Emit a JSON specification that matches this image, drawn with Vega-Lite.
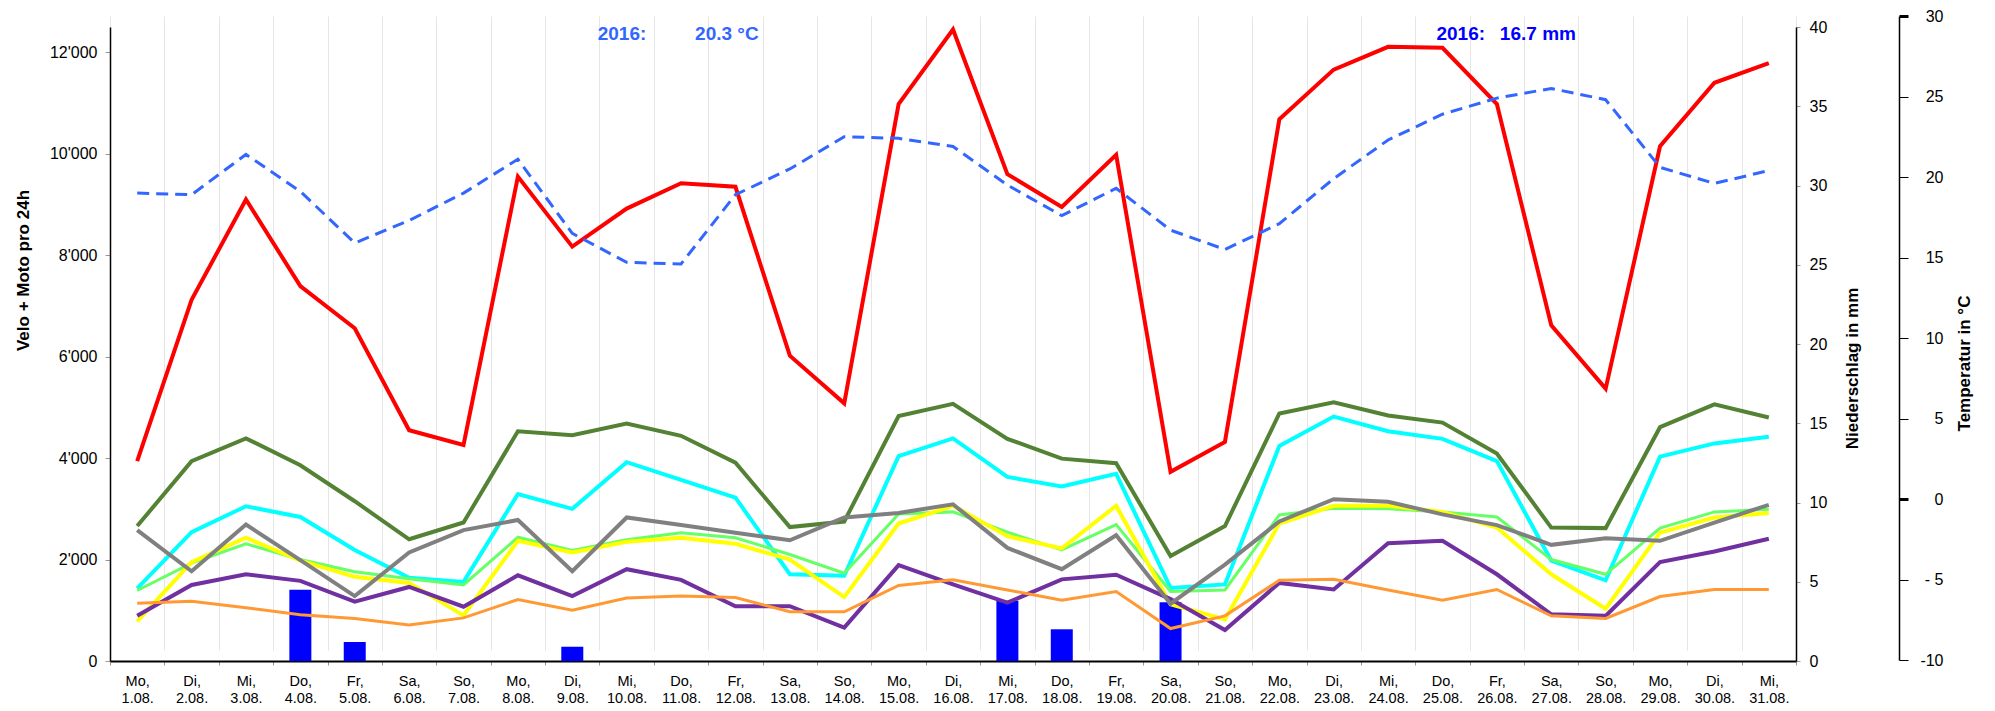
{
  "$schema": "https://vega.github.io/schema/vega-lite/v6.json",
  "width": 1686,
  "height": 645,
  "autosize": {"type": "none"},
  "padding": {"left": 110, "top": 16, "right": 199, "bottom": 50},
  "background": "white",
  "config": {"view": {"stroke": null}, "font": "Liberation Sans"},
  "datasets": {
    "rot": [
      {"d":"Mo, 1.08.","v":3940},{"d":"Di, 2.08.","v":7120},{"d":"Mi, 3.08.","v":9100},{"d":"Do, 4.08.","v":7390},{"d":"Fr, 5.08.","v":6560},{"d":"Sa, 6.08.","v":4550},{"d":"So, 7.08.","v":4260},{"d":"Mo, 8.08.","v":9550},{"d":"Di, 9.08.","v":8170},{"d":"Mi, 10.08.","v":8920},{"d":"Do, 11.08.","v":9420},{"d":"Fr, 12.08.","v":9350},{"d":"Sa, 13.08.","v":6020},{"d":"So, 14.08.","v":5080},{"d":"Mo, 15.08.","v":10980},{"d":"Di, 16.08.","v":12450},{"d":"Mi, 17.08.","v":9600},{"d":"Do, 18.08.","v":8950},{"d":"Fr, 19.08.","v":9980},{"d":"Sa, 20.08.","v":3730},{"d":"So, 21.08.","v":4320},{"d":"Mo, 22.08.","v":10680},{"d":"Di, 23.08.","v":11660},{"d":"Mi, 24.08.","v":12110},{"d":"Do, 25.08.","v":12090},{"d":"Fr, 26.08.","v":10980},{"d":"Sa, 27.08.","v":6620},{"d":"So, 28.08.","v":5370},{"d":"Mo, 29.08.","v":10150},{"d":"Di, 30.08.","v":11400},{"d":"Mi, 31.08.","v":11790}
    ],
    "dgruen": [
      {"d":"Mo, 1.08.","v":2660},{"d":"Di, 2.08.","v":3940},{"d":"Mi, 3.08.","v":4390},{"d":"Do, 4.08.","v":3860},{"d":"Fr, 5.08.","v":3150},{"d":"Sa, 6.08.","v":2400},{"d":"So, 7.08.","v":2730},{"d":"Mo, 8.08.","v":4530},{"d":"Di, 9.08.","v":4450},{"d":"Mi, 10.08.","v":4680},{"d":"Do, 11.08.","v":4440},{"d":"Fr, 12.08.","v":3910},{"d":"Sa, 13.08.","v":2640},{"d":"So, 14.08.","v":2750},{"d":"Mo, 15.08.","v":4830},{"d":"Di, 16.08.","v":5070},{"d":"Mi, 17.08.","v":4380},{"d":"Do, 18.08.","v":3990},{"d":"Fr, 19.08.","v":3900},{"d":"Sa, 20.08.","v":2070},{"d":"So, 21.08.","v":2660},{"d":"Mo, 22.08.","v":4880},{"d":"Di, 23.08.","v":5100},{"d":"Mi, 24.08.","v":4840},{"d":"Do, 25.08.","v":4700},{"d":"Fr, 26.08.","v":4090},{"d":"Sa, 27.08.","v":2630},{"d":"So, 28.08.","v":2620},{"d":"Mo, 29.08.","v":4610},{"d":"Di, 30.08.","v":5060},{"d":"Mi, 31.08.","v":4800}
    ],
    "cyan": [
      {"d":"Mo, 1.08.","v":1430},{"d":"Di, 2.08.","v":2540},{"d":"Mi, 3.08.","v":3050},{"d":"Do, 4.08.","v":2840},{"d":"Fr, 5.08.","v":2190},{"d":"Sa, 6.08.","v":1640},{"d":"So, 7.08.","v":1560},{"d":"Mo, 8.08.","v":3290},{"d":"Di, 9.08.","v":3000},{"d":"Mi, 10.08.","v":3920},{"d":"Do, 11.08.","v":3570},{"d":"Fr, 12.08.","v":3220},{"d":"Sa, 13.08.","v":1710},{"d":"So, 14.08.","v":1680},{"d":"Mo, 15.08.","v":4040},{"d":"Di, 16.08.","v":4390},{"d":"Mi, 17.08.","v":3630},{"d":"Do, 18.08.","v":3440},{"d":"Fr, 19.08.","v":3690},{"d":"Sa, 20.08.","v":1440},{"d":"So, 21.08.","v":1510},{"d":"Mo, 22.08.","v":4240},{"d":"Di, 23.08.","v":4820},{"d":"Mi, 24.08.","v":4530},{"d":"Do, 25.08.","v":4380},{"d":"Fr, 26.08.","v":3940},{"d":"Sa, 27.08.","v":1980},{"d":"So, 28.08.","v":1590},{"d":"Mo, 29.08.","v":4030},{"d":"Di, 30.08.","v":4290},{"d":"Mi, 31.08.","v":4420}
    ],
    "hgruen": [
      {"d":"Mo, 1.08.","v":1390},{"d":"Di, 2.08.","v":1930},{"d":"Mi, 3.08.","v":2310},{"d":"Do, 4.08.","v":2000},{"d":"Fr, 5.08.","v":1760},{"d":"Sa, 6.08.","v":1620},{"d":"So, 7.08.","v":1500},{"d":"Mo, 8.08.","v":2440},{"d":"Di, 9.08.","v":2180},{"d":"Mi, 10.08.","v":2390},{"d":"Do, 11.08.","v":2530},{"d":"Fr, 12.08.","v":2430},{"d":"Sa, 13.08.","v":2100},{"d":"So, 14.08.","v":1730},{"d":"Mo, 15.08.","v":2900},{"d":"Di, 16.08.","v":2940},{"d":"Mi, 17.08.","v":2540},{"d":"Do, 18.08.","v":2190},{"d":"Fr, 19.08.","v":2690},{"d":"Sa, 20.08.","v":1370},{"d":"So, 21.08.","v":1400},{"d":"Mo, 22.08.","v":2880},{"d":"Di, 23.08.","v":3010},{"d":"Mi, 24.08.","v":3000},{"d":"Do, 25.08.","v":2940},{"d":"Fr, 26.08.","v":2840},{"d":"Sa, 27.08.","v":2000},{"d":"So, 28.08.","v":1710},{"d":"Mo, 29.08.","v":2620},{"d":"Di, 30.08.","v":2940},{"d":"Mi, 31.08.","v":2990}
    ],
    "gelb": [
      {"d":"Mo, 1.08.","v":780},{"d":"Di, 2.08.","v":1950},{"d":"Mi, 3.08.","v":2430},{"d":"Do, 4.08.","v":1980},{"d":"Fr, 5.08.","v":1660},{"d":"Sa, 6.08.","v":1540},{"d":"So, 7.08.","v":900},{"d":"Mo, 8.08.","v":2370},{"d":"Di, 9.08.","v":2140},{"d":"Mi, 10.08.","v":2350},{"d":"Do, 11.08.","v":2430},{"d":"Fr, 12.08.","v":2310},{"d":"Sa, 13.08.","v":2000},{"d":"So, 14.08.","v":1260},{"d":"Mo, 15.08.","v":2710},{"d":"Di, 16.08.","v":3060},{"d":"Mi, 17.08.","v":2460},{"d":"Do, 18.08.","v":2220},{"d":"Fr, 19.08.","v":3060},{"d":"Sa, 20.08.","v":1120},{"d":"So, 21.08.","v":820},{"d":"Mo, 22.08.","v":2710},{"d":"Di, 23.08.","v":3060},{"d":"Mi, 24.08.","v":3060},{"d":"Do, 25.08.","v":2940},{"d":"Fr, 26.08.","v":2630},{"d":"Sa, 27.08.","v":1710},{"d":"So, 28.08.","v":1030},{"d":"Mo, 29.08.","v":2530},{"d":"Di, 30.08.","v":2830},{"d":"Mi, 31.08.","v":2920}
    ],
    "violett": [
      {"d":"Mo, 1.08.","v":890},{"d":"Di, 2.08.","v":1500},{"d":"Mi, 3.08.","v":1710},{"d":"Do, 4.08.","v":1580},{"d":"Fr, 5.08.","v":1170},{"d":"Sa, 6.08.","v":1460},{"d":"So, 7.08.","v":1070},{"d":"Mo, 8.08.","v":1690},{"d":"Di, 9.08.","v":1280},{"d":"Mi, 10.08.","v":1810},{"d":"Do, 11.08.","v":1600},{"d":"Fr, 12.08.","v":1080},{"d":"Sa, 13.08.","v":1080},{"d":"So, 14.08.","v":660},{"d":"Mo, 15.08.","v":1890},{"d":"Di, 16.08.","v":1510},{"d":"Mi, 17.08.","v":1150},{"d":"Do, 18.08.","v":1610},{"d":"Fr, 19.08.","v":1700},{"d":"Sa, 20.08.","v":1220},{"d":"So, 21.08.","v":610},{"d":"Mo, 22.08.","v":1540},{"d":"Di, 23.08.","v":1410},{"d":"Mi, 24.08.","v":2320},{"d":"Do, 25.08.","v":2370},{"d":"Fr, 26.08.","v":1710},{"d":"Sa, 27.08.","v":920},{"d":"So, 28.08.","v":890},{"d":"Mo, 29.08.","v":1950},{"d":"Di, 30.08.","v":2160},{"d":"Mi, 31.08.","v":2410}
    ],
    "orange": [
      {"d":"Mo, 1.08.","v":1140},{"d":"Di, 2.08.","v":1180},{"d":"Mi, 3.08.","v":1050},{"d":"Do, 4.08.","v":910},{"d":"Fr, 5.08.","v":840},{"d":"Sa, 6.08.","v":710},{"d":"So, 7.08.","v":850},{"d":"Mo, 8.08.","v":1210},{"d":"Di, 9.08.","v":1000},{"d":"Mi, 10.08.","v":1240},{"d":"Do, 11.08.","v":1280},{"d":"Fr, 12.08.","v":1250},{"d":"Sa, 13.08.","v":970},{"d":"So, 14.08.","v":970},{"d":"Mo, 15.08.","v":1490},{"d":"Di, 16.08.","v":1600},{"d":"Mi, 17.08.","v":1400},{"d":"Do, 18.08.","v":1200},{"d":"Fr, 19.08.","v":1370},{"d":"Sa, 20.08.","v":640},{"d":"So, 21.08.","v":890},{"d":"Mo, 22.08.","v":1590},{"d":"Di, 23.08.","v":1610},{"d":"Mi, 24.08.","v":1400},{"d":"Do, 25.08.","v":1200},{"d":"Fr, 26.08.","v":1410},{"d":"Sa, 27.08.","v":890},{"d":"So, 28.08.","v":840},{"d":"Mo, 29.08.","v":1270},{"d":"Di, 30.08.","v":1410},{"d":"Mi, 31.08.","v":1410}
    ],
    "grau": [
      {"d":"Mo, 1.08.","v":2580},{"d":"Di, 2.08.","v":1770},{"d":"Mi, 3.08.","v":2690},{"d":"Do, 4.08.","v":1990},{"d":"Fr, 5.08.","v":1280},{"d":"Sa, 6.08.","v":2140},{"d":"So, 7.08.","v":2580},{"d":"Mo, 8.08.","v":2780},{"d":"Di, 9.08.","v":1770},{"d":"Mi, 10.08.","v":2830},{"d":"Do, 11.08.","v":2680},{"d":"Fr, 12.08.","v":2530},{"d":"Sa, 13.08.","v":2380},{"d":"So, 14.08.","v":2830},{"d":"Mo, 15.08.","v":2920},{"d":"Di, 16.08.","v":3090},{"d":"Mi, 17.08.","v":2230},{"d":"Do, 18.08.","v":1810},{"d":"Fr, 19.08.","v":2480},{"d":"Sa, 20.08.","v":1130},{"d":"So, 21.08.","v":1900},{"d":"Mo, 22.08.","v":2750},{"d":"Di, 23.08.","v":3190},{"d":"Mi, 24.08.","v":3140},{"d":"Do, 25.08.","v":2890},{"d":"Fr, 26.08.","v":2680},{"d":"Sa, 27.08.","v":2290},{"d":"So, 28.08.","v":2420},{"d":"Mo, 29.08.","v":2370},{"d":"Di, 30.08.","v":2730},{"d":"Mi, 31.08.","v":3080}
    ],
    "temp": [
      {"d":"Mo, 1.08.","t":19.0},{"d":"Di, 2.08.","t":18.9},{"d":"Mi, 3.08.","t":21.4},{"d":"Do, 4.08.","t":19.1},{"d":"Fr, 5.08.","t":15.9},{"d":"Sa, 6.08.","t":17.3},{"d":"So, 7.08.","t":19.0},{"d":"Mo, 8.08.","t":21.1},{"d":"Di, 9.08.","t":16.5},{"d":"Mi, 10.08.","t":14.7},{"d":"Do, 11.08.","t":14.6},{"d":"Fr, 12.08.","t":18.9},{"d":"Sa, 13.08.","t":20.5},{"d":"So, 14.08.","t":22.5},{"d":"Mo, 15.08.","t":22.4},{"d":"Di, 16.08.","t":21.9},{"d":"Mi, 17.08.","t":19.5},{"d":"Do, 18.08.","t":17.6},{"d":"Fr, 19.08.","t":19.3},{"d":"Sa, 20.08.","t":16.7},{"d":"So, 21.08.","t":15.5},{"d":"Mo, 22.08.","t":17.1},{"d":"Di, 23.08.","t":19.9},{"d":"Mi, 24.08.","t":22.3},{"d":"Do, 25.08.","t":23.9},{"d":"Fr, 26.08.","t":24.9},{"d":"Sa, 27.08.","t":25.5},{"d":"So, 28.08.","t":24.8},{"d":"Mo, 29.08.","t":20.6},{"d":"Di, 30.08.","t":19.6},{"d":"Mi, 31.08.","t":20.4}
    ],
    "rain": [
      {"d":"Do, 4.08.","mm":4.5},{"d":"Fr, 5.08.","mm":1.2},{"d":"Di, 9.08.","mm":0.9},{"d":"Mi, 17.08.","mm":3.8},{"d":"Do, 18.08.","mm":2.0},{"d":"Sa, 20.08.","mm":3.7}
    ],
    "notes": [
      {"d":"Mi, 10.08.","v":12370,"label":"2016:"},
      {"d":"Do, 11.08.","v":12370,"label":"20.3  °C"},
      {"d":"Do, 25.08.","v":12370,"label":"2016:"},
      {"d":"Fr, 26.08.","v":12370,"label":"16.7 mm"}
    ]
  },
  "encoding": {
    "x": {
      "field": "d",
      "type": "nominal",
      "sort": null,
      "scale": {
        "domain": ["Mo, 1.08.","Di, 2.08.","Mi, 3.08.","Do, 4.08.","Fr, 5.08.","Sa, 6.08.","So, 7.08.","Mo, 8.08.","Di, 9.08.","Mi, 10.08.","Do, 11.08.","Fr, 12.08.","Sa, 13.08.","So, 14.08.","Mo, 15.08.","Di, 16.08.","Mi, 17.08.","Do, 18.08.","Fr, 19.08.","Sa, 20.08.","So, 21.08.","Mo, 22.08.","Di, 23.08.","Mi, 24.08.","Do, 25.08.","Fr, 26.08.","Sa, 27.08.","So, 28.08.","Mo, 29.08.","Di, 30.08.","Mi, 31.08."],
        "paddingInner": 0,
        "paddingOuter": 0
      },
      "axis": {
        "title": null,
        "labelExpr": "split(datum.label, ' ')",
        "labelAngle": 0,
        "labelFontSize": 14.5,
        "labelColor": "#000000",
        "labelPadding": 9,
        "labelBaseline": "top",
        "labelLineHeight": 17.5,
        "labelOverlap": false,
        "tickBand": "extent",
        "tickSize": 4,
        "tickColor": "#999999",
        "domainColor": "#000000",
        "domainWidth": 2,
        "grid": true,
        "gridColor": "#e6e6e6",
        "gridWidth": 1
      }
    }
  },
  "layer": [
    {
      "data": {"name": "rain"},
      "mark": {"type": "bar", "color": "#0000FF", "width": 22},
      "encoding": {
        "y": {
          "field": "mm",
          "type": "quantitative",
          "scale": {"domain": [0, 40], "range": [645, 11], "nice": false, "zero": true},
          "axis": {
            "orient": "right",
            "values": [0, 5, 10, 15, 20, 25, 30, 35, 40],
            "labelFontSize": 16,
            "labelColor": "#000000",
            "labelPadding": 9,
            "tickSize": 4,
            "tickColor": "#999999",
            "domainColor": "#000000",
            "domainWidth": 1.5,
            "grid": false,
            "title": "Niederschlag in mm",
            "titleFontSize": 17,
            "titleFontWeight": "bold",
            "titleColor": "#000000",
            "titleAngle": 270,
            "titleX": 56,
            "titleY": 352,
            "titleAlign": "center",
            "titleBaseline": "middle"
          }
        }
      }
    },
    {
      "encoding": {
        "y": {
          "field": "v",
          "type": "quantitative",
          "scale": {"domain": [0, 12500], "range": [645, 11], "nice": false, "zero": true},
          "axis": {
            "orient": "left",
            "values": [0, 2000, 4000, 6000, 8000, 10000, 12000],
            "labelExpr": "replace(format(datum.value, ','), ',', \"'\")",
            "labelFontSize": 16,
            "labelColor": "#000000",
            "labelPadding": 8,
            "tickSize": 5,
            "tickColor": "#999999",
            "domainColor": "#000000",
            "domainWidth": 1.5,
            "grid": false,
            "title": "Velo + Moto pro 24h",
            "titleFontSize": 17,
            "titleFontWeight": "bold",
            "titleColor": "#000000",
            "titleAngle": 270,
            "titleX": -87,
            "titleY": 254,
            "titleAlign": "center",
            "titleBaseline": "middle"
          }
        }
      },
      "layer": [
        {"data": {"name": "dgruen"}, "mark": {"type": "line", "color": "#548235", "strokeWidth": 4}},
        {"data": {"name": "cyan"}, "mark": {"type": "line", "color": "#00FFFF", "strokeWidth": 4}},
        {"data": {"name": "hgruen"}, "mark": {"type": "line", "color": "#66FF66", "strokeWidth": 3}},
        {"data": {"name": "gelb"}, "mark": {"type": "line", "color": "#FFFF00", "strokeWidth": 4}},
        {"data": {"name": "violett"}, "mark": {"type": "line", "color": "#7030A0", "strokeWidth": 4}},
        {"data": {"name": "orange"}, "mark": {"type": "line", "color": "#FF9933", "strokeWidth": 3}},
        {"data": {"name": "grau"}, "mark": {"type": "line", "color": "#808080", "strokeWidth": 4}},
        {"data": {"name": "rot"}, "mark": {"type": "line", "color": "#FF0000", "strokeWidth": 4}},
        {
          "data": {"name": "notes"},
          "transform": [{"filter": "datum.d == 'Mi, 10.08.'"}],
          "mark": {"type": "text", "color": "#3366FF", "fontSize": 19, "fontWeight": "bold", "align": "left", "baseline": "middle", "dx": -29},
          "encoding": {"text": {"field": "label"}}
        },
        {
          "data": {"name": "notes"},
          "transform": [{"filter": "datum.d == 'Do, 11.08.'"}],
          "mark": {"type": "text", "color": "#3366FF", "fontSize": 19, "fontWeight": "bold", "align": "left", "baseline": "middle", "dx": 14},
          "encoding": {"text": {"field": "label"}}
        },
        {
          "data": {"name": "notes"},
          "transform": [{"filter": "datum.d == 'Do, 25.08.'"}],
          "mark": {"type": "text", "color": "#0000FF", "fontSize": 19, "fontWeight": "bold", "align": "left", "baseline": "middle", "dx": -6},
          "encoding": {"text": {"field": "label"}}
        },
        {
          "data": {"name": "notes"},
          "transform": [{"filter": "datum.d == 'Fr, 26.08.'"}],
          "mark": {"type": "text", "color": "#0000FF", "fontSize": 19, "fontWeight": "bold", "align": "left", "baseline": "middle", "dx": 3},
          "encoding": {"text": {"field": "label"}}
        }
      ]
    },
    {
      "data": {"name": "temp"},
      "mark": {"type": "line", "color": "#3366FF", "strokeWidth": 3, "strokeDash": [12, 7]},
      "encoding": {
        "y": {
          "field": "t",
          "type": "quantitative",
          "scale": {"domain": [-10, 30], "range": [644, 0], "nice": false, "zero": false},
          "axis": {
            "orient": "right",
            "offset": 103,
            "values": [-10, -5, 0, 5, 10, 15, 20, 25, 30],
            "labelExpr": "datum.value == -5 ? '- 5' : (datum.value == -10 ? '-10' : datum.label)",
            "labelAlign": "right",
            "labelFontSize": 16,
            "labelColor": "#000000",
            "labelPadding": 35,
            "tickSize": 9,
            "tickColor": "#000000",
            "tickWidth": {"condition": {"test": "datum.value == 0 || datum.value == 30", "value": 3}, "value": 1},
            "domainColor": "#000000",
            "domainWidth": 1.5,
            "grid": false,
            "title": "Temperatur in °C",
            "titleFontSize": 17,
            "titleFontWeight": "bold",
            "titleColor": "#000000",
            "titleAngle": 270,
            "titleX": 65,
            "titleY": 347,
            "titleAlign": "center",
            "titleBaseline": "middle"
          }
        }
      }
    }
  ],
  "resolve": {"scale": {"y": "independent"}, "axis": {"y": "independent"}}
}
